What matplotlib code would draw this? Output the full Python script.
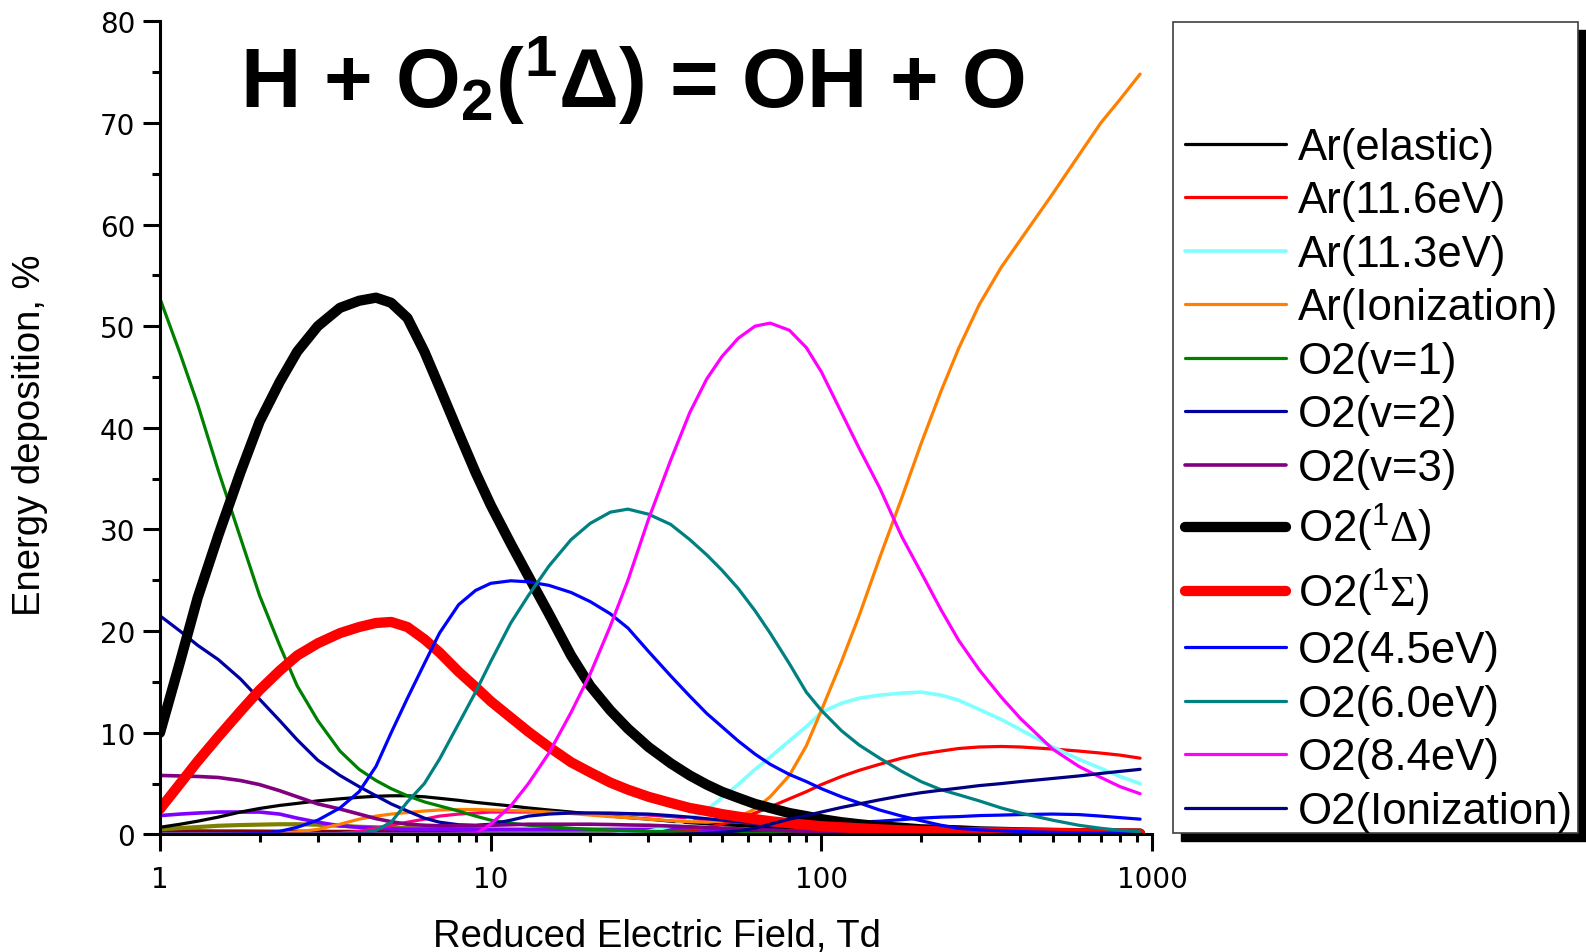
import matplotlib
matplotlib.use("Agg")
import matplotlib.pyplot as plt
from matplotlib.patches import Rectangle
from matplotlib.ticker import LogLocator, NullFormatter, MultipleLocator

plt.rcParams["font.family"] = ["Liberation Sans", "DejaVu Sans"]
plt.rcParams["mathtext.fontset"] = "custom"
plt.rcParams["mathtext.rm"] = "Liberation Serif"
plt.rcParams["mathtext.sf"] = "Liberation Sans"
plt.rcParams["mathtext.bf"] = "Liberation Sans:bold"
plt.rcParams["mathtext.it"] = "Liberation Sans:italic"

# ===========================
# Datos
# ===========================
E = [1, 1.15, 1.3, 1.5, 1.75, 2, 2.3, 2.6, 3, 3.5,
     4, 4.5, 5, 5.6, 6.3, 7, 8, 9, 10, 11.5,
     13, 15, 17.5, 20, 23, 26, 30, 35, 40, 45,
     50, 56, 63, 70, 80, 90, 100, 115, 130, 150,
     175, 200, 230, 260, 300, 350, 400, 500, 600, 700,
     800, 920]

ar_elastic = [0.7, 1.0, 1.3, 1.7, 2.2, 2.55, 2.85, 3.05, 3.3, 3.5,
              3.65, 3.75, 3.8, 3.8, 3.7, 3.55, 3.35, 3.15, 3.0, 2.8,
              2.6, 2.4, 2.2, 2.0, 1.8, 1.65, 1.5, 1.3, 1.15, 1.05,
              0.95, 0.88, 0.8, 0.75, 0.68, 0.6, 0.55, 0.5, 0.45, 0.4,
              0.35, 0.3, 0.27, 0.25, 0.2, 0.18, 0.15, 0.13, 0.12, 0.1,
              0.09, 0.08]
ar_116 = [0, 0, 0, 0, 0, 0, 0, 0, 0, 0,
          0, 0, 0, 0, 0, 0, 0, 0, 0, 0,
          0, 0, 0, 0, 0.03, 0.06, 0.1, 0.2, 0.4, 0.65,
          1.0, 1.5, 2.1, 2.7, 3.5, 4.2, 4.9, 5.7, 6.3, 6.9,
          7.5, 7.9, 8.2, 8.45, 8.6, 8.65, 8.6, 8.4, 8.2, 8.0,
          7.8, 7.5]
ar_113 = [0, 0, 0, 0, 0, 0, 0, 0, 0, 0,
          0, 0, 0, 0, 0, 0, 0, 0, 0, 0,
          0, 0, 0, 0, 0, 0.1, 0.3, 0.8, 1.5, 2.4,
          3.6, 4.9, 6.4, 7.6, 9.2, 10.6, 12.0, 12.9, 13.4, 13.7,
          13.9, 14.0, 13.7, 13.2, 12.3, 11.3, 10.3, 8.6, 7.4, 6.5,
          5.7, 5.0]
ar_ion = [0, 0, 0, 0, 0.02, 0.05, 0.12, 0.25, 0.5, 1.0,
          1.5, 1.8, 2.0, 2.15, 2.3, 2.4, 2.45, 2.45, 2.4, 2.35,
          2.3, 2.2, 2.05, 1.9, 1.75, 1.65, 1.5, 1.35, 1.25, 1.2,
          1.3, 1.7, 2.5, 3.7, 5.8, 8.7, 12.2, 17.0, 21.5, 27.2,
          33.1, 38.4, 43.6, 47.8, 52.1, 55.8, 58.5, 63.0, 66.8, 70.0,
          72.3, 74.8]
o2_v1 = [52.7, 47.3, 42.3, 35.8, 29.2, 23.5, 18.6, 14.6, 11.2, 8.2,
         6.4, 5.3, 4.5, 3.8, 3.2, 2.8, 2.3, 1.8, 1.4, 1.1,
         0.9, 0.75, 0.6, 0.5, 0.42, 0.36, 0.3, 0.25, 0.2, 0.17,
         0.15, 0.12, 0.1, 0.09, 0.08, 0.07, 0.06, 0.05, 0.05, 0.04,
         0.04, 0.03, 0.03, 0.03, 0.02, 0.02, 0.02, 0.02, 0.02, 0.02,
         0.02, 0.02]
o2_v2 = [21.5, 20.0, 18.6, 17.2, 15.3, 13.3, 11.2, 9.3, 7.3, 5.8,
         4.7, 3.8, 3.0, 2.3, 1.6, 1.2, 0.95, 0.9, 1.0, 1.4,
         1.8, 2.0, 2.1, 2.1, 2.1, 2.05, 2.0, 1.85, 1.7, 1.55,
         1.4, 1.25, 1.1, 0.9, 0.8, 0.65, 0.55, 0.45, 0.4, 0.3,
         0.25, 0.2, 0.17, 0.15, 0.12, 0.11, 0.1, 0.08, 0.06, 0.05,
         0.05, 0.04]
o2_v3 = [5.8, 5.75, 5.7, 5.6, 5.3, 4.9, 4.3, 3.7, 3.0, 2.5,
         2.0, 1.55, 1.25, 1.0, 0.9, 0.85, 0.85, 0.85, 0.9, 0.95,
         1.0, 1.0, 1.0, 1.0, 0.97, 0.93, 0.9, 0.82, 0.75, 0.68,
         0.6, 0.55, 0.48, 0.42, 0.35, 0.3, 0.25, 0.21, 0.18, 0.15,
         0.12, 0.1, 0.09, 0.08, 0.06, 0.05, 0.05, 0.04, 0.03, 0.03,
         0.02, 0.02]
o2_delta = [10.0, 17.0, 23.3, 29.4, 35.6, 40.6, 44.5, 47.5, 50.0, 51.8,
            52.5, 52.8, 52.3, 50.8, 47.5, 44.0, 39.5, 35.6, 32.4, 28.6,
            25.4, 21.7, 17.6, 14.6, 12.2, 10.4, 8.6, 7.0, 5.8, 4.9,
            4.2, 3.6, 3.0, 2.6, 2.1, 1.8, 1.5, 1.2, 1.0, 0.8,
            0.65, 0.5, 0.45, 0.4, 0.3, 0.25, 0.2, 0.15, 0.12, 0.1,
            0.09, 0.08]
o2_sigma = [2.5, 5.0, 7.2, 9.6, 12.1, 14.2, 16.1, 17.6, 18.8, 19.8,
            20.4, 20.8, 20.9, 20.4, 19.2, 17.9, 16.0, 14.5, 13.1, 11.5,
            10.1, 8.6, 7.1, 6.1, 5.1, 4.4, 3.7, 3.1, 2.6, 2.3,
            2.0, 1.75, 1.5, 1.3, 1.1, 0.95, 0.8, 0.7, 0.6, 0.5,
            0.4, 0.35, 0.3, 0.25, 0.22, 0.2, 0.17, 0.13, 0.11, 0.1,
            0.08, 0.07]
o2_45 = [0, 0, 0, 0.02, 0.05, 0.1, 0.3, 0.7, 1.4, 2.6,
         4.2, 6.7, 10.0, 13.4, 16.8, 19.8, 22.6, 24.0, 24.7, 24.95,
         24.85, 24.5, 23.8, 22.9, 21.7, 20.3, 18.0, 15.6, 13.6, 11.9,
         10.6, 9.2, 7.9, 6.9, 5.9, 5.2, 4.5, 3.7, 3.1, 2.4,
         1.8, 1.35, 0.9, 0.6, 0.45, 0.35, 0.28, 0.2, 0.15, 0.12,
         0.1, 0.1]
o2_60 = [0, 0, 0, 0, 0, 0, 0, 0, 0, 0.02,
         0.1, 0.4, 1.2, 3.2, 5.0, 7.4, 10.9, 14.0, 17.0, 20.8,
         23.5, 26.4, 29.0, 30.6, 31.7, 32.0, 31.5, 30.5, 29.0, 27.5,
         26.0, 24.2, 22.0, 19.8, 16.8, 14.0, 12.2, 10.2, 8.8, 7.5,
         6.2, 5.2, 4.4, 3.9, 3.3, 2.6, 2.1, 1.4, 0.9, 0.6,
         0.4, 0.25]
o2_84 = [0, 0, 0, 0, 0, 0, 0, 0, 0, 0,
         0, 0, 0, 0, 0, 0, 0, 0.05, 1.0, 2.8,
         5.0, 8.0, 12.0, 15.8, 20.5, 25.0, 31.0, 36.8, 41.5, 44.8,
         47.0, 48.8, 50.0, 50.3, 49.6, 47.9, 45.5, 41.5, 38.0, 34.1,
         29.3, 25.8, 22.1, 19.1, 16.2, 13.5, 11.4, 8.4, 6.7, 5.6,
         4.7, 4.0]
o2_ion = [0, 0, 0, 0, 0, 0, 0, 0, 0, 0,
          0, 0, 0, 0, 0, 0, 0, 0, 0, 0,
          0, 0, 0, 0, 0, 0, 0, 0, 0.05, 0.1,
          0.2, 0.35, 0.6, 1.0, 1.5, 1.85, 2.2, 2.65, 3.0, 3.4,
          3.8, 4.1, 4.35, 4.55, 4.8, 5.0, 5.2, 5.5, 5.75, 6.0,
          6.2, 6.4]

# curvas sin leyenda
extra_violet = [1.85, 2.0, 2.1, 2.2, 2.2, 2.2, 2.0, 1.6, 1.2, 0.85,
                0.7, 0.6, 0.55, 0.5, 0.5, 0.5, 0.5, 0.5, 0.5, 0.5,
                0.5, 0.5, 0.5, 0.5, 0.5, 0.5, 0.5, 0.5, 0.5, 0.5,
                0.5, 0.48, 0.45, 0.4, 0.37, 0.33, 0.3, 0.27, 0.24, 0.2,
                0.17, 0.15, 0.13, 0.12, 0.1, 0.09, 0.08, 0.07, 0.06, 0.05,
                0.05, 0.05]
extra_olive = [0.5, 0.62, 0.72, 0.85, 0.92, 0.96, 1.0, 1.0, 0.95, 0.85,
               0.75, 0.7, 0.65, 0.62, 0.58, 0.55, 0.5, 0.48, 0.45, 0.43,
               0.42, 0.4, 0.38, 0.37, 0.35, 0.34, 0.32, 0.31, 0.3, 0.29,
               0.28, 0.27, 0.26, 0.25, 0.24, 0.23, 0.22, 0.21, 0.2, 0.18,
               0.17, 0.16, 0.15, 0.15, 0.14, 0.13, 0.12, 0.11, 0.1, 0.1,
               0.1, 0.1]
extra_maroon = [0.35, 0.35, 0.35, 0.34, 0.34, 0.33, 0.32, 0.32, 0.31, 0.3,
                0.3, 0.29, 0.28, 0.27, 0.26, 0.26, 0.25, 0.24, 0.23, 0.22,
                0.21, 0.2, 0.19, 0.18, 0.17, 0.16, 0.15, 0.14, 0.13, 0.12,
                0.12, 0.11, 0.1, 0.1, 0.09, 0.08, 0.08, 0.07, 0.06, 0.06,
                0.05, 0.05, 0.05, 0.04, 0.04, 0.04, 0.04, 0.03, 0.03, 0.03,
                0.03, 0.03]
extra_pink = [0, 0, 0, 0, 0, 0, 0, 0, 0, 0.1,
              0.3, 0.6, 0.9, 1.2, 1.5, 1.8, 2.0, 2.1, 2.2, 2.2,
              2.2, 2.2, 2.15, 2.1, 2.05, 2.0, 1.9, 1.75, 1.6, 1.4,
              1.2, 1.0, 0.85, 0.7, 0.55, 0.45, 0.35, 0.3, 0.25, 0.15,
              0.12, 0.1, 0.1, 0.1, 0.08, 0.07, 0.06, 0.05, 0.05, 0.05,
              0.05, 0.05]
extra_blue = [0, 0, 0, 0, 0, 0, 0, 0, 0, 0,
              0, 0, 0, 0, 0, 0, 0, 0, 0, 0,
              0, 0, 0, 0, 0, 0, 0.05, 0.08, 0.1, 0.15,
              0.2, 0.28, 0.38, 0.5, 0.65, 0.8, 0.9, 1.05, 1.2, 1.3,
              1.45, 1.6, 1.7, 1.75, 1.85, 1.9, 1.95, 2.0, 1.95, 1.8,
              1.65, 1.5]

labels = ["Ar(elastic)", "Ar(11.6eV)", "Ar(11.3eV)", "Ar(Ionization)", "O2(v=1)", "O2(v=2)", "O2(v=3)",
          r"O2($^\mathsf{1}\Delta$)", r"O2($^\mathsf{1}\Sigma$)", "O2(4.5eV)", "O2(6.0eV)", "O2(8.4eV)",
          "O2(Ionization)"]
series = [ar_elastic, ar_116, ar_113, ar_ion, o2_v1, o2_v2, o2_v3, o2_delta, o2_sigma, o2_45, o2_60, o2_84, o2_ion]
colors = ["black", "#ff0000", "#80ffff", "#ff8000", "#008000", "#0000a0", "#800080",
          "black", "#ff0000", "#0000ff", "#008080", "#ff00ff", "#000080"]
widths = [2.3, 2.3, 2.6, 2.3, 2.3, 2.3, 2.6, 7.4, 7.4, 2.3, 2.3, 2.3, 2.3]

extras = [extra_maroon, extra_olive, extra_violet, extra_pink, extra_blue]
extra_colors = ["#800000", "#808000", "#8000ff", "#ff0080", "#0000ff"]
extra_widths = [2.3, 3.0, 2.6, 2.3, 2.3]

# ===========================
# Figura
# ===========================
fig = plt.figure(figsize=(15.86, 9.53), dpi=100)
ax = fig.add_axes([0.1009, 0.1234, 0.6255, 0.8533])

for y, c, w in zip(extras, extra_colors, extra_widths):
    ax.plot(E, y, color=c, lw=w, solid_capstyle="round", solid_joinstyle="round")

handles = []
for y, c, w, lab in zip(series, colors, widths, labels):
    h, = ax.plot(E, y, color=c, lw=w, label=lab, solid_capstyle="round", solid_joinstyle="round")
    handles.append(h)

ax.set_xscale("log")
ax.set_xlim(1, 1000)
ax.set_ylim(0, 80)
ax.set_xticks([1, 10, 100, 1000], labels=["1", "10", "100", "1000"])
ax.xaxis.set_minor_locator(LogLocator(base=10, subs=range(2, 10)))
ax.xaxis.set_minor_formatter(NullFormatter())
ax.set_yticks(range(0, 81, 10))
ax.yaxis.set_minor_locator(MultipleLocator(5))

for s in ["top", "right"]:
    ax.spines[s].set_visible(False)
for s in ["left", "bottom"]:
    ax.spines[s].set_linewidth(2.2)

ax.tick_params(which="major", direction="out", length=12, width=2.2, labelsize=20)
ax.tick_params(which="minor", direction="out", length=6, width=2.2)
ax.tick_params(axis="x", which="major", pad=10)
ax.tick_params(axis="y", which="major", pad=6)
for t in ax.get_xticklabels() + ax.get_yticklabels():
    t.set_fontfamily("DejaVu Sans")

fig.text(657 / 1586, 0.006, "Reduced Electric Field, Td", fontsize=27.5, ha="center", va="baseline")
fig.text(30 / 1586, 0.5435, "Energy deposition, %", fontsize=27.5, rotation=90, ha="center", va="center")

fig.text(240 / 1586, 1 - 108 / 953, r"H + O$_\mathbf{2}$($^\mathbf{1}\mathbf{\Delta}$) = OH + O",
         fontsize=60, fontweight="bold", ha="left", va="baseline")

# Recuadro de la leyenda con sombra
lx, ly, lw_, lh = 1173 / 1586, 1 - 834 / 953, 405 / 1586, 811 / 953
fig.patches.append(Rectangle((lx + 8 / 1586, ly - 8 / 953), lw_, lh, transform=fig.transFigure,
                             facecolor="black", edgecolor="black", zorder=1))
fig.patches.append(Rectangle((lx, ly), lw_, lh, transform=fig.transFigure,
                             facecolor="white", edgecolor="#404040", lw=1.2, zorder=2))

leg = fig.legend(handles=handles, loc="upper left", bbox_to_anchor=(1185 / 1586, 1 - 128 / 953),
                 bbox_transform=fig.transFigure, frameon=False, fontsize=31.5, borderpad=0,
                 borderaxespad=0, handlelength=2.3, handletextpad=0.28, labelspacing=0.285)
leg.set_zorder(5)

fig.savefig("out.png", dpi=100)
